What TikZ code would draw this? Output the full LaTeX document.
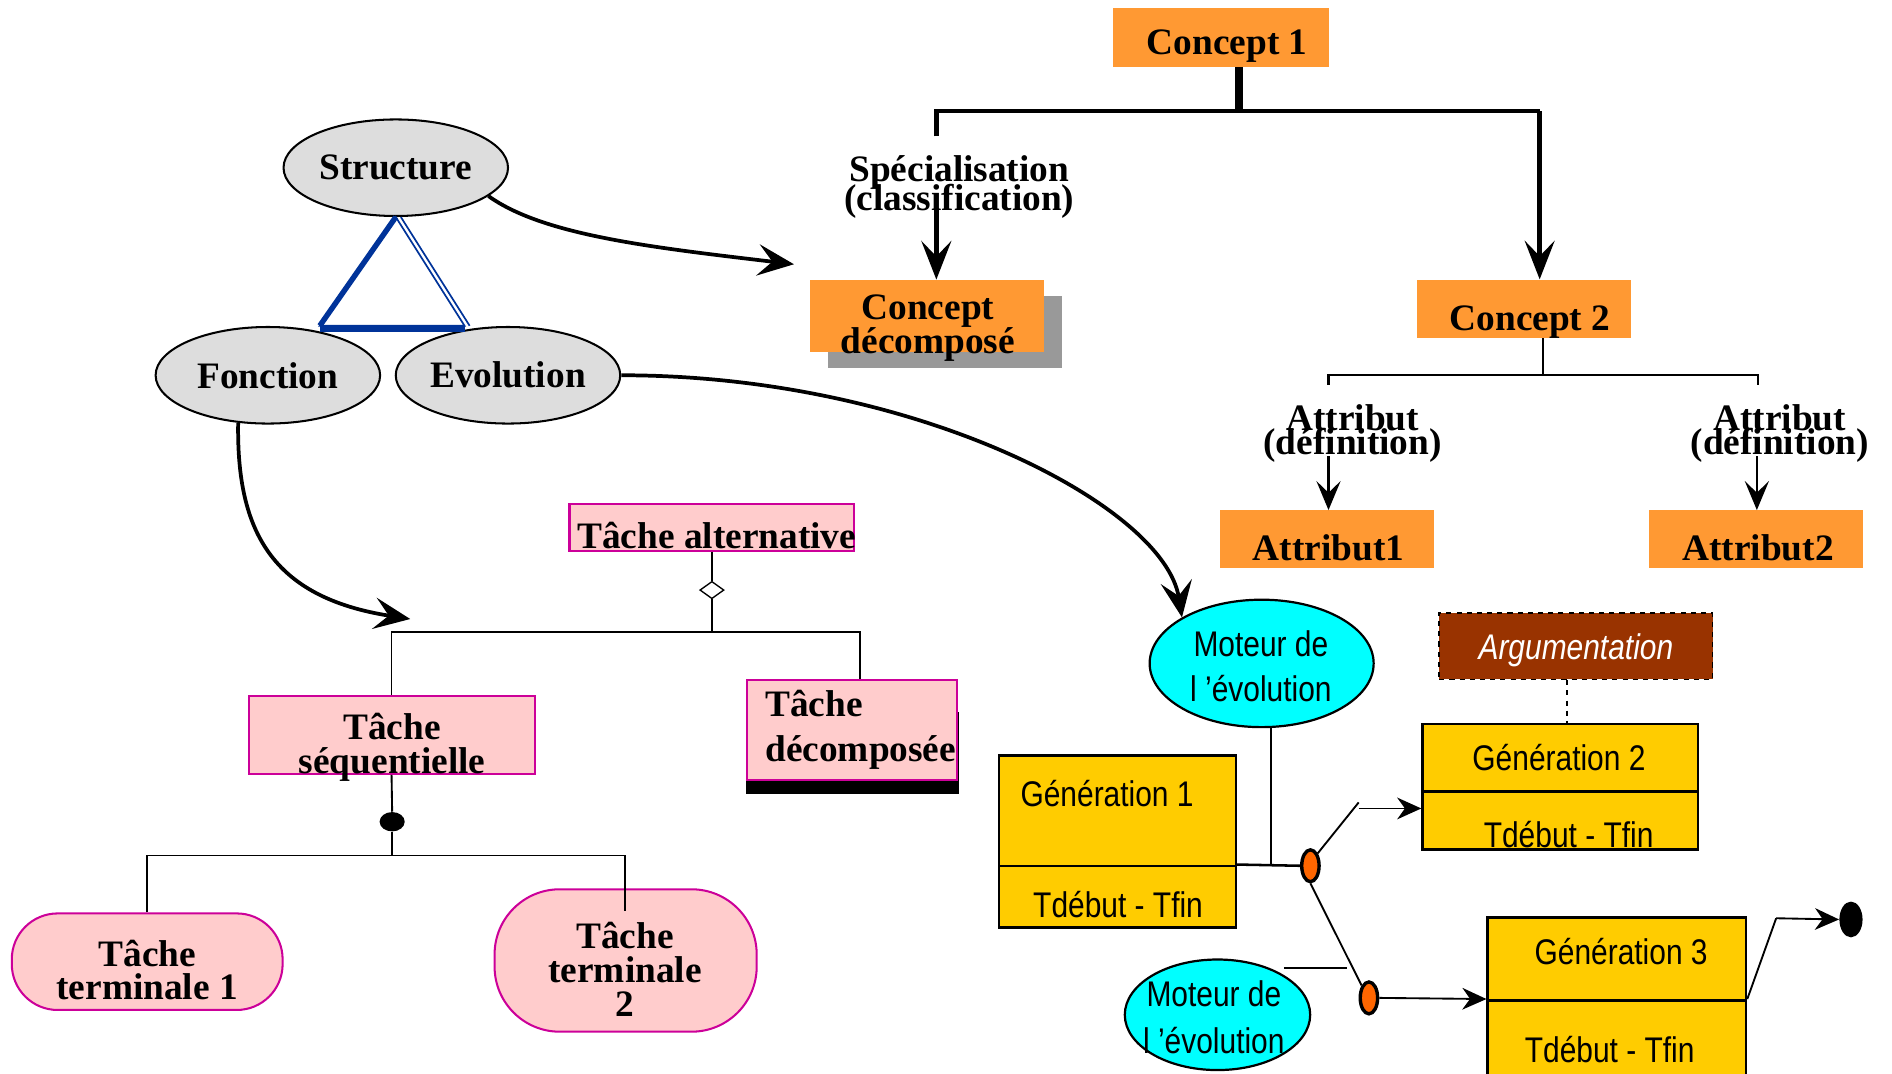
\documentclass[tikz,border=0pt]{standalone}
\usepackage{fontspec}
\setmainfont{Liberation Serif}
\newfontfamily\narrowsans[FakeStretch=0.84]{Liberation Sans}
\usetikzlibrary{arrows.meta,shapes.geometric}

\definecolor{conceptorange}{HTML}{FF9933}
\definecolor{shadowgrey}{HTML}{999999}
\definecolor{tachepink}{HTML}{FFCCCC}
\definecolor{tacheline}{HTML}{CC0099}
\definecolor{genyellow}{HTML}{FFCC00}
\definecolor{argbrown}{HTML}{993300}
\definecolor{triblue}{HTML}{003399}
\definecolor{dotorange}{HTML}{FF6600}
\definecolor{moteurcyan}{HTML}{00FFFF}
\definecolor{marblegrey}{HTML}{DDDDDD}

\newcommand\boldserif[1]{\fontsize{22}{#1}\selectfont\bfseries\lineskiplimit=-50pt}
\newcommand\narrowtext[1]{\narrowsans\fontsize{21}{#1}\selectfont\lineskiplimit=-50pt}

\tikzset{
  concept/.style={fill=conceptorange, inner sep=0pt},
  boldlbl/.style={font=\boldserif{#1}, align=center, inner sep=0pt},
  boldlbl/.default=22,
  sanslbl/.style={font=\narrowtext{#1}, align=center, inner sep=0pt},
  sanslbl/.default=26.5,
  marble/.style={ellipse, draw, line width=1.2pt, fill=marblegrey, minimum width=4.65cm, minimum height=2cm, inner sep=0pt, font=\boldserif{22}},
  tache/.style={draw=tacheline, line width=1.2pt, fill=tachepink, inner sep=0pt},
  moteur/.style={ellipse, draw, line width=1.3pt, fill=moteurcyan, inner sep=0pt},
  genbox/.style={draw, line width=1.5pt, fill=genyellow, inner sep=0pt},
  dotnode/.style={ellipse, draw, line width=2pt, fill=dotorange, minimum width=0.36cm, minimum height=0.66cm, inner sep=0pt},
  blackdot/.style={ellipse, fill=black, inner sep=0pt},
  hier/.style={line width=2.6pt},
  subhier/.style={line width=1.3pt},
  link/.style={line width=1.1pt},
  curve/.style={line width=2.2pt},
  bigtip/.style={-{Stealth[length=0.8cm, width=0.62cm, inset=0.32cm]}},
  midtip/.style={-{Stealth[length=0.6cm, width=0.5cm, inset=0.24cm]}},
  curvetip/.style={-{Stealth[length=0.75cm, width=0.65cm, inset=0.3cm]}},
  smalltip/.style={-{Stealth[length=0.5cm, width=0.45cm, inset=0.16cm]}},
}

\begin{document}
\begin{tikzpicture}[x=0.025cm, y=-0.025cm]
\useasboundingbox (0,0) rectangle (1568,890);

% concepts
\node[concept, minimum width=4.475cm, minimum height=1.21cm] (c1) at (1012,31) {};
\node[boldlbl] (c1lbl) at (1017,38) {Concept 1};
\node[fill=shadowgrey, minimum width=4.84cm, minimum height=1.5cm, inner sep=0pt] (cdshadow) at (783,275) {};
\node[concept, minimum width=4.84cm, minimum height=1.5cm] (cd) at (768,262) {};
\node[boldlbl=19.6] (cdlbl) at (769,272) {Concept\\décomposé};
\node[concept, minimum width=4.45cm, minimum height=1.21cm] (c2) at (1263,256) {};
\node[boldlbl] (c2lbl) at (1268,267) {Concept 2};
\node[concept, minimum width=4.44cm, minimum height=1.2cm] (att1) at (1100,447) {};
\node[boldlbl] (att1lbl) at (1101,454) {Attribut1};
\node[concept, minimum width=4.43cm, minimum height=1.2cm] (att2) at (1455,447) {};
\node[boldlbl] (att2lbl) at (1457,454) {Attribut2};

\coordinate (c1stem) at (1027,92);
\coordinate (specbar) at (776,92);
\coordinate (c2bar) at (1276,92);
\coordinate (spectop) at (776,113);
\coordinate (specbot) at (776,172);
\draw[line width=4.5pt] (c1.south -| c1stem) -- (c1stem);
\draw[hier] (spectop) -- (specbar) -- (c2bar);
\draw[hier, bigtip] (c2bar) -- (c2bar |- c2.north);
\draw[hier, bigtip] (specbot) -- (specbot |- cd.north);
\node[boldlbl=16.6] (speclbl) at (795,155) {Spécialisation\\(classification)};

\coordinate (c2stem) at (1279,311);
\coordinate (def1top) at (1101,311);
\coordinate (def2top) at (1457,311);
\coordinate (def1bot) at (1101,378);
\coordinate (def2bot) at (1456,378);
\draw[subhier] (c2.south -| c2stem) -- (c2stem);
\draw[subhier] (def1top) ++(0,8) -- (def1top) -- (def2top) -- ++(0,8);
\node[boldlbl=14.2] (def1lbl) at (1121,359) {Attribut\\(définition)};
\node[boldlbl=14.2] (def2lbl) at (1475,359) {Attribut\\(définition)};
\draw[subhier, midtip] (def1bot) -- (def1bot |- att1.north);
\draw[subhier, midtip] (def2bot) -- (def2bot |- att2.north);

% structure / fonction / evolution
\node[marble] (str) at (328,139) {Structure};
\node[marble] (fonc) at (222,311) {Fonction};
\node[marble] (evo) at (421,311) {Evolution};
\coordinate (triL) at (265,270);
\coordinate (triR) at (385,270);
\draw[triblue, line width=1pt, line join=miter] (str.south) -- (triL) -- (triR) -- cycle;
\draw[triblue, line width=3.2pt] (str.south) -- (triL);
\draw[triblue, line width=3.5pt] ([yshift=-2pt]triL) -- ([yshift=-2pt]triR);
\draw[triblue, line width=1pt] ([xshift=3pt]str.south) -- ([xshift=3pt]triR);

% taches
\node[tache, minimum width=5.9cm, minimum height=0.975cm] (alt) at (590,437) {};
\node[boldlbl] (altlbl) at (594,444) {Tâche alternative};
\node[diamond, draw, line width=0.8pt, fill=white, minimum width=0.5cm, minimum height=0.36cm, inner sep=0pt] (altdia) at (590,489) {};
\node[tache, minimum width=5.925cm, minimum height=1.615cm] (seq) at (324.5,609) {};
\node[boldlbl=20] (seqlbl) at (325,619) {Tâche\\séquentielle};
\node[fill=black, minimum width=4.425cm, minimum height=1.7cm, inner sep=0pt] (decshadow) at (706.5,624) {};
\node[tache, minimum width=4.35cm, minimum height=2.09cm] (dec) at (706,605) {};
\node[boldlbl=26.5, align=left, anchor=west] (declbl) at (634,605) {Tâche\\décomposée};
\node[blackdot, minimum width=0.52cm, minimum height=0.4cm] (seqdot) at (325,681) {};
\node[tache, rounded corners=0.95cm, minimum width=5.61cm, minimum height=2cm] (term1) at (122,797) {};
\node[boldlbl=19.8] (term1lbl) at (122,804) {Tâche\\terminale 1};
\node[tache, rounded corners=1.35cm, minimum width=5.43cm, minimum height=2.95cm] (term2) at (518.5,796) {};
\node[boldlbl=20] (term2lbl) at (518,803) {Tâche\\terminale\\2};

\coordinate (altbar) at (590,524);
\coordinate (decdrop) at (713,524);
\coordinate (seqbar) at (325,709);
\coordinate (term2drop) at (518,755);
\draw[link] (alt.south) -- (altdia.north);
\draw[link] (altdia.south) -- (altbar);
\draw[link] (seq.north) |- (decdrop) -- (decdrop |- dec.north);
\draw[link] (seq.south) -- (seqdot.north);
\draw[link] (seqdot.south) -- (seqbar);
\draw[link] (term1.north) -- (term1.north |- seqbar) -- (term2drop |- seqbar) -- (term2drop);

% evolution des generations
\node[moteur, minimum width=4.64cm, minimum height=2.64cm] (m1) at (1045.6,549.8) {};
\node[sanslbl=26.3] (m1lbl) at (1045,552) {Moteur de\\l ’évolution};
\node[moteur, minimum width=3.84cm, minimum height=2.29cm] (m2) at (1009,841) {};
\node[sanslbl=27.7] (m2lbl) at (1006,843) {Moteur de\\l ’évolution};
\node[draw, dashed, line width=1pt, fill=argbrown, text=white, font=\narrowtext{26}\itshape, text depth=0pt, minimum width=5.66cm, minimum height=1.375cm, inner sep=0pt] (arg) at (1306,535.5) {Argumentation};

\node[genbox, minimum width=4.91cm, minimum height=2.29cm] (gen1) at (926,671.75) {};
\node[genbox, minimum width=4.91cm, minimum height=1.28cm] (gen1t) at (926,743.15) {};
\node[sanslbl] (gen1lbl) at (917.5,657.5) {Génération 1};
\node[sanslbl] (gen1tlbl) at (926.6,750) {Tdébut - Tfin};
\node[genbox, minimum width=5.7cm, minimum height=1.4cm] (gen2) at (1293,628) {};
\node[genbox, minimum width=5.7cm, minimum height=1.2cm] (gen2t) at (1293,680) {};
\node[sanslbl] (gen2lbl) at (1292,628) {Génération 2};
\node[sanslbl] (gen2tlbl) at (1300,692) {Tdébut - Tfin};
\node[genbox, minimum width=5.35cm, minimum height=1.71cm] (gen3) at (1340,794.75) {};
\node[genbox, minimum width=5.35cm, minimum height=1.775cm] (gen3t) at (1340,864.5) {};
\node[sanslbl] (gen3lbl) at (1343.5,789) {Génération 3};
\node[sanslbl] (gen3tlbl) at (1334,870) {Tdébut - Tfin};

\node[dotnode] (o1) at (1086,717.5) {};
\node[dotnode] (o2) at (1134.5,827) {};
\node[blackdot, minimum width=0.48cm, minimum height=0.74cm] (enddot) at (1534,762) {};

\coordinate (argx) at (1299,580);
\coordinate (m1drop) at (1053,717.5);
\coordinate (k1) at (1126,665);
\coordinate (k1arrow) at (1126,670);
\coordinate (m2end) at (1116,802);
\coordinate (g3up) at (1472,761);
\draw[link, dashed] (arg.south -| argx) -- (gen2.north -| argx);
\draw[link] (m1.south -| m1drop) -- (m1drop);
\draw[line width=1.5pt] (gen1t.north east) -- (o1.west);
\draw[link] (o1.north east) -- (k1);
\draw[link, smalltip] (k1arrow) -- (k1arrow -| gen2t.west);
\draw[link] (o1.south) -- (o2.north west);
\draw[link] (m2.north east |- m2end) -- (m2end);
\draw[link, smalltip] (o2.east) -- (gen3t.north west);
\draw[link] (gen3t.north east) -- (g3up);
\draw[link, smalltip] (g3up) -- (enddot.west);

% curved links
\coordinate (strtip) at (658,219);
\coordinate (fonctip) at (340,513);
\draw[curve, curvetip] (str.-17) .. controls (450,195) and (540,205) .. (strtip);
\draw[curve, curvetip] (evo.east) .. controls (760,311) and (965,420) .. (m1.150);
\draw[curve, curvetip] (fonc.238) .. controls (196,440) and (225,495) .. (fonctip);

\end{tikzpicture}
\end{document}
